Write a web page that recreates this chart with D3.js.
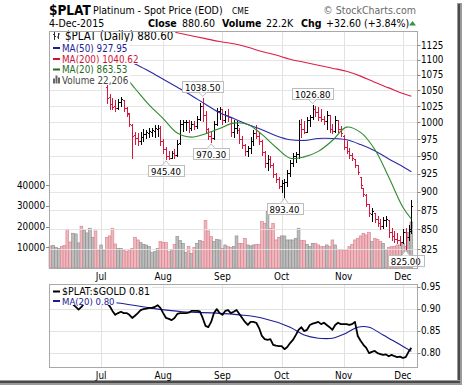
<!DOCTYPE html>
<html>
<head>
<meta charset="utf-8">
<script src="https://cdn.jsdelivr.net/npm/d3@7"></script>
<style>
  body { margin: 0; background: #fff; }
  svg { display: block; }
  text { font-family: "DejaVu Sans Condensed", "DejaVu Sans", sans-serif; }
</style>
</head>
<body>
<svg id="chart" width="464" height="387"></svg>
<script>
// meses del eje x (indice de la primera barra de cada mes)
const months = ['Jul', 'Aug', 'Sep', 'Oct', 'Nov', 'Dec'];
const monthIndex = [18, 40, 61, 82, 104, 125];

// barras diarias $PLAT (jun 2015 - 4 dic 2015)
const opens = [
  1120,1114,1118,1121,1123,1118,1110,1104,1098,1102,
  1106,1108,1097,1100,1103,1105,1107,1095,1085,1088,
  1056,1040,1028,1025,1022,1032,1034,1022,1013,996,
  981,977,972,978,982,984,986,987,990,992,
  972,960,950,948,955,952,970,997,1000,1001,
  992,998,995,1006,1026,1012,990,980,976,998,
  1018,1020,1004,1012,1008,985,992,989,975,966,
  958,962,972,984,980,972,956,940,946,938,
  924,917,908,912,913,926,940,950,953,998,
  990,986,1004,1008,1020,1016,1008,1006,1002,1012,
  990,987,1004,990,980,964,958,952,946,937,
  920,905,896,884,870,872,864,858,855,862,
  862,846,842,838,836,834,846,840,850];
const highs = [
  1124,1122,1125,1128,1126,1120,1112,1107,1106,1110,
  1112,1110,1104,1106,1108,1110,1108,1097,1092,1094,
  1058,1044,1038,1034,1036,1040,1035,1024,1014,997,
  986,984,985,990,988,992,991,996,996,995,
  975,963,958,958,960,973,1003,1004,1003,1004,
  1002,1002,1010,1030,1038.5,1018,992,985,1002,1022,
  1024,1020,1018,1020,1008,1003,1002,991,980,968,
  965,978,988,996,986,974,958,952,950,940,
  926,920,916,918,930,945,955,956,1004,1006,
  1002,1008,1012,1026.8,1025,1024,1020,1010,1018,1012,
  998,1010,1004,995,981,972,962,955,946,937,
  921,905,897,884,878,872,868,864,866,868,
  862,852,848,845,842,850,852,856,889];
const lows = [
  1110,1110,1114,1117,1114,1106,1100,1094,1095,1099,
  1102,1094,1093,1096,1099,1101,1092,1082,1080,1083,
  1030,1020,1020,1017,1020,1026,1018,1010,994,948,
  968,966,968,972,976,978,980,978,980,966,
  955,945.4,946,947,948,951,968,987,988,985,
  988,990,992,1004,1002,985,975,970.3,975,996,
  1005,998,1000,1002,980,978,984,970,962,952,
  951,955,966,976,968,952,934,930,935,920,
  914,905,900,893.4,908,922,936,941,948,978,
  984,986,995,1006,1010,1004,1002,998,990,986,
  984,985,985,980,960,954,948,944,934,925,
  905,894,881,868,861,860,854,850,852,855,
  840,836,834,832,830,832,825,836,845];
const closes = [
  1115,1118,1121,1124,1118,1110,1104,1098,1102,1106,
  1108,1097,1100,1103,1105,1107,1095,1085,1088,1090,
  1038,1028,1024,1022,1032,1036,1022,1014,998,980,
  976,972,978,983,985,987,988,991,992,972,
  960,950,948,955,952,968,998,1000,1001,992,
  998,995,1006,1026,1012,990,980,976,998,1018,
  1020,1004,1012,1008,985,992,996,975,966,958,
  962,972,984,980,972,956,940,946,938,924,
  917,908,912,913,926,940,950,953,998,990,
  986,1004,1008,1020,1016,1008,1006,1002,1012,990,
  987,1004,990,984,964,958,952,947,938,928,
  910,897,884,872,874,864,858,855,862,864,
  846,842,838,836,834,846,840,848,880.6];
const volumes = [
  10600,10950,10000,9500,10470,10950,18680,12560,16740,16420,
  12080,20130,18350,16900,19160,14810,17870,8690,11110,8690,
  14810,15460,19160,11590,9500,9500,8690,7890,9020,9500,
  14810,13520,12240,11430,11110,10300,7400,7890,9340,12720,
  12240,12240,7890,9020,11430,15140,13200,11910,7400,10300,
  7080,9980,11910,13200,12720,22860,17870,15140,12720,13850,
  13520,9500,11110,10300,9980,10300,15460,11910,11910,14330,
  11110,10630,11110,11430,11430,22380,21570,27200,19160,21570,
  13520,14810,15460,15460,13520,13520,13520,14330,19160,13200,
  13200,11430,10300,11910,11910,11110,10300,10300,11110,10300,
  13520,11110,9020,9020,8690,8690,10300,11430,13520,14330,
  15460,16740,15940,17070,12720,14330,13850,12720,11910,9020,
  9980,10300,10300,11110,11110,11910,10300,17070,22206];

// medias moviles
const maIndex = [20,25,30,35,40,45,50,55,60,65,70,75,80,85,90,95,100,105,110,115,120,125,128];
const ma20 = [1095,1080,1053,1027,1006,984,978,983,991,999,997,982,963,947,949,957,973,993,985,960,920,879,863.53];
const ma50 = [1112,1102,1093,1081,1068,1055,1042,1028,1015,1006,997,989,980,974,973,976,976,974,967,958,946,935,927.95];
const ma200 = [1172,1166,1160,1155,1151,1146,1141,1136,1131,1127,1121,1114,1108,1101,1096,1091,1086,1081,1073,1063,1054,1045,1040.62];

// $PLAT:$GOLD
const ratios = [
  0.915,0.918,0.920,0.916,0.912,0.915,0.918,0.914,0.910,0.904,
  0.898,0.904,0.912,0.915,0.918,0.916,0.920,0.918,0.915,0.918,
  0.913,0.906,0.895,0.886,0.890,0.893,0.890,0.890,0.886,0.879,
  0.884,0.890,0.897,0.899,0.900,0.902,0.902,0.904,0.908,0.902,
  0.890,0.879,0.877,0.874,0.879,0.888,0.890,0.890,0.890,0.891,
  0.895,0.895,0.895,0.894,0.879,0.861,0.858,0.870,0.890,0.899,
  0.890,0.886,0.895,0.897,0.890,0.893,0.897,0.888,0.879,0.870,
  0.863,0.870,0.870,0.868,0.856,0.838,0.831,0.829,0.831,0.818,
  0.816,0.815,0.815,0.808,0.813,0.822,0.829,0.840,0.852,0.858,
  0.849,0.852,0.863,0.866,0.868,0.870,0.865,0.868,0.863,0.858,
  0.852,0.863,0.868,0.865,0.865,0.865,0.863,0.865,0.870,0.838,
  0.827,0.818,0.811,0.799,0.802,0.804,0.799,0.797,0.795,0.796,
  0.792,0.795,0.792,0.790,0.791,0.788,0.790,0.802,0.811];
const ratioMaIndex = [20,24,35,47,59,67,75,85,90,95,100,105,109,113,118,123,128];
const ratioMa = [0.915,0.913,0.902,0.893,0.890,0.886,0.879,0.858,0.840,0.833,0.833,0.845,0.858,0.858,0.840,0.822,0.803];

// ejes y etiquetas
const priceTicks = [825,850,875,900,925,950,975,1000,1025,1050,1075,1100,1125];
const volumeTicks = [10000,20000,30000,40000];
const ratioTicks = [0.80,0.85,0.90,0.95];
const labelIndex = [41,54,57,83,93,126];
const labelKind = ['low','high','low','low','high','low'];

const RED = '#d8173f', GRID = '#e2e2e2', BORDER = '#a9a9a9';

const svg = d3.select('#chart');

// sombra y fondo
svg.append('rect').attr('x', 457).attr('y', 3).attr('width', 5).attr('height', 381).attr('fill', '#9a9a9a');
svg.append('rect').attr('x', 458).attr('y', 4).attr('width', 2).attr('height', 379).attr('fill', '#4a4a4a');
svg.append('rect').attr('x', 0).attr('y', 380).attr('width', 462).attr('height', 5).attr('fill', '#9a9a9a');
svg.append('rect').attr('x', 0).attr('y', 381).attr('width', 460).attr('height', 2).attr('fill', '#4a4a4a');
svg.append('rect').attr('x', 0).attr('y', 0).attr('width', 457).attr('height', 380).attr('fill', '#fff');

// escalas
const x = d3.scaleLinear().domain([-0.5, 130]).range([49, 417]);
const step = x(1) - x(0);
const y = d3.scaleLog().domain([825, 1125]).range([249, 45]);
const yVol = d3.scaleLinear().domain([0, 40000]).range([268, 185]);
const yRatio = d3.scaleLinear().domain([0.80, 0.95]).range([352.7, 286.7]);

const P = { left: 49, right: 417, top: 31, bottom: 268 };
const L = { top: 284, bottom: 367 };

const defs = svg.append('defs');
defs.append('clipPath').attr('id', 'clipPrice').append('rect')
  .attr('x', P.left).attr('y', P.top).attr('width', P.right - P.left).attr('height', P.bottom - P.top);
defs.append('clipPath').attr('id', 'clipLower').append('rect')
  .attr('x', P.left).attr('y', L.top).attr('width', P.right - P.left).attr('height', L.bottom - L.top);

// cabecera
const head = svg.append('g').style('font-family', '"Liberation Sans", Arial, sans-serif');
head.append('text').attr('x', 49).attr('y', 15).attr('font-size', 13.5).attr('font-weight', 'bold').text('$PLAT');
head.append('text').attr('x', 93).attr('y', 14).attr('font-size', 10.5).text('Platinum  - Spot Price (EOD)');
head.append('text').attr('x', 232).attr('y', 14).attr('font-size', 8.5).text('CME');
head.append('text').attr('x', 416).attr('y', 14).attr('font-size', 10.5).attr('fill', '#6a6a6a')
  .attr('text-anchor', 'end').text('© StockCharts.com');

const row = svg.append('g').attr('font-size', 10.5);
const rowText = [['4-Dec-2015', 49, false], ['Close', 148, true], ['880.60', 182, false],
  ['Volume', 222, true], ['22.2K', 266, false], ['Chg', 301, true], ['+32.60 (+3.84%)', 326, false]];
rowText.forEach(([t, px, b]) => {
  row.append('text').attr('x', px).attr('y', 27).attr('font-weight', b ? 'bold' : 'normal').text(t);
});
svg.append('path').attr('d', 'M409,25.5L412.5,21L416,25.5Z').attr('fill', '#2e9a36');

// panel de precio: rejilla
const price = svg.append('g');
price.selectAll('line.vgrid').data(monthIndex).enter().append('line')
  .attr('x1', d => Math.round(x(d)) + 0.5).attr('x2', d => Math.round(x(d)) + 0.5)
  .attr('y1', P.top).attr('y2', P.bottom).attr('stroke', GRID);

// volumen
const up = closes.map((c, i) => i === 0 ? c >= opens[0] : c >= closes[i - 1]);
price.selectAll('rect.vol').data(volumes).enter().append('rect')
  .attr('x', (d, i) => x(i - 0.5))
  .attr('width', step)
  .attr('y', d => yVol(d))
  .attr('height', d => yVol(0) - yVol(d))
  .attr('fill', (d, i) => up[i] ? '#bdbdbd' : '#efb7be')
  .attr('stroke', (d, i) => up[i] ? '#8c8c8c' : '#d97f8c')
  .attr('stroke-width', 0.6);

price.selectAll('line.hgrid').data(priceTicks).enter().append('line')
  .attr('x1', P.left).attr('x2', P.right)
  .attr('y1', d => Math.round(y(d)) + 0.5).attr('y2', d => Math.round(y(d)) + 0.5)
  .attr('stroke', GRID).attr('stroke-opacity', 0.9);

// barras OHLC
const bars = price.append('g').attr('clip-path', 'url(#clipPrice)').attr('shape-rendering', 'crispEdges');
bars.selectAll('path').data(closes).enter().append('path')
  .attr('d', (c, i) => {
    const cx = Math.round(x(i)) + 0.5;
    return `M${cx},${Math.round(y(highs[i]))}V${Math.round(y(lows[i])) + 1}` +
      `M${cx - 1.5},${Math.round(y(opens[i])) + 0.5}H${cx}` +
      `M${cx},${Math.round(y(c)) + 0.5}H${cx + 1.5}`;
  })
  .attr('stroke', (c, i) => up[i] ? '#000' : RED)
  .attr('fill', 'none');

// medias moviles
const maLine = d3.line().x(d => x(d[0])).y(d => y(d[1])).curve(d3.curveCatmullRom);
const maGroup = price.append('g').attr('clip-path', 'url(#clipPrice)');
[[ma200, '#dc1f45'], [ma50, '#2a2aa6'], [ma20, '#2d8a2d']].forEach(([vals, col]) => {
  maGroup.append('path')
    .attr('d', maLine(maIndex.map((d, k) => [d, vals[k]])))
    .attr('fill', 'none').attr('stroke', col).attr('stroke-width', 1.1);
});

// etiquetas de maximos y minimos
labelIndex.forEach((i, k) => {
  const isHigh = labelKind[k] === 'high';
  const v = isHigh ? highs[i] : lows[i];
  const cx = x(i), py = y(v);
  const label = v.toFixed(2);
  const g = price.append('g');
  const t = g.append('text').attr('font-size', 9.5).attr('text-anchor', 'middle').text(label);
  const w = t.node().getComputedTextLength() + 6;
  const boxTop = isHigh ? py - 17 : py + 6;
  g.insert('rect', 'text')
    .attr('x', Math.round(cx - w / 2) + 0.5).attr('y', Math.round(boxTop) + 0.5)
    .attr('width', Math.round(w)).attr('height', 11)
    .attr('fill', '#fff').attr('stroke', '#bdbdbd');
  const edge = isHigh ? Math.round(boxTop) + 11.5 : Math.round(boxTop) + 0.5;
  const tip = isHigh ? py - 1.5 : py + 1.5;
  g.append('path')
    .attr('d', `M${cx - 4},${edge}L${cx},${tip}L${cx + 4},${edge}`)
    .attr('fill', '#fff').attr('stroke', '#bdbdbd');
  t.attr('x', cx).attr('y', Math.round(boxTop) + 9.5);
});

// leyenda del panel de precio
const legend = [
  { text: '$PLAT (Daily) 880.60', color: '#000', size: 11.5, y: 40, icon: 'ohlc' },
  { text: 'MA(50) 927.95', color: '#1c1c96', size: 9.8, y: 51.5, icon: 'dash' },
  { text: 'MA(200) 1040.62', color: '#d0103a', size: 9.8, y: 62.5, icon: 'dash' },
  { text: 'MA(20) 863.53', color: '#1e6e1e', size: 9.8, y: 73, icon: 'dash' },
  { text: 'Volume 22,206', color: '#444', size: 9.8, y: 83.5, icon: 'vol' }
];
const leg = svg.append('g');
legend.forEach(d => {
  const g = leg.append('g');
  const tx = d.icon === 'ohlc' ? 65 : 62;
  const t = g.append('text').attr('x', tx).attr('y', d.y).attr('font-size', d.size)
    .attr('fill', d.color).text(d.text);
  const w = t.node().getComputedTextLength();
  g.insert('rect', 'text').attr('x', P.left + 1).attr('y', d.y - 9.5)
    .attr('width', tx + w + 2 - P.left - 1).attr('height', 11).attr('fill', '#fff');
  if (d.icon === 'dash') {
    g.append('rect').attr('x', 53).attr('y', d.y - 4.5).attr('width', 7).attr('height', 2).attr('fill', d.color);
  } else if (d.icon === 'ohlc') {
    g.append('path').attr('d', `M54.5,${d.y - 8}V${d.y}M53,${d.y - 5.5}H54.5M54.5,${d.y - 3.5}H56` +
      `M58.5,${d.y - 7}V${d.y - 1}M57,${d.y - 3}H58.5M58.5,${d.y - 6}H60`)
      .attr('stroke', '#333').attr('fill', 'none');
  } else {
    g.append('path').attr('d', `M53,${d.y}V${d.y - 5}H55V${d.y}M55.5,${d.y}V${d.y - 8}H57.5V${d.y}M58,${d.y}V${d.y - 6}H60V${d.y}`)
      .attr('fill', '#666');
  }
});

// borde y ejes del panel de precio
svg.append('rect').attr('x', P.left + 0.5).attr('y', P.top + 0.5)
  .attr('width', P.right - P.left).attr('height', P.bottom - P.top)
  .attr('fill', 'none').attr('stroke', BORDER);

const axisFont = 9.8;
svg.selectAll('text.ptick').data(priceTicks).enter().append('text')
  .attr('x', 421).attr('y', d => y(d) + 3.5).attr('font-size', axisFont).text(d => d);
svg.selectAll('line.ptick').data(priceTicks).enter().append('line')
  .attr('x1', P.right + 0.5).attr('x2', P.right + 3.5)
  .attr('y1', d => Math.round(y(d)) + 0.5).attr('y2', d => Math.round(y(d)) + 0.5).attr('stroke', '#888');
svg.selectAll('text.vtick').data(volumeTicks).enter().append('text')
  .attr('x', 45).attr('y', d => yVol(d) + 3.5).attr('font-size', axisFont)
  .attr('text-anchor', 'end').text(d => d);
svg.selectAll('line.vtick').data(volumeTicks).enter().append('line')
  .attr('x1', 46).attr('x2', P.left + 0.5)
  .attr('y1', d => Math.round(yVol(d)) + 0.5).attr('y2', d => Math.round(yVol(d)) + 0.5).attr('stroke', '#888');

// etiquetas de meses (entre paneles y abajo)
[279.5, 378.5].forEach(py => {
  svg.selectAll(null).data(monthIndex).enter().append('text')
    .attr('x', d => x(d)).attr('y', py).attr('font-size', axisFont)
    .attr('text-anchor', 'middle').text((d, k) => months[k]);
});

// panel inferior: $PLAT:$GOLD
const lower = svg.append('g');
lower.selectAll('line.vgrid').data(monthIndex).enter().append('line')
  .attr('x1', d => Math.round(x(d)) + 0.5).attr('x2', d => Math.round(x(d)) + 0.5)
  .attr('y1', L.top).attr('y2', L.bottom).attr('stroke', GRID);
lower.selectAll('line.hgrid').data(ratioTicks).enter().append('line')
  .attr('x1', P.left).attr('x2', P.right)
  .attr('y1', d => Math.round(yRatio(d)) + 0.5).attr('y2', d => Math.round(yRatio(d)) + 0.5)
  .attr('stroke', GRID);

const lowerPlot = lower.append('g').attr('clip-path', 'url(#clipLower)');
lowerPlot.append('path')
  .attr('d', d3.line().x(d => x(d[0])).y(d => yRatio(d[1])).curve(d3.curveCatmullRom)(ratioMaIndex.map((d, k) => [d, ratioMa[k]])))
  .attr('fill', 'none').attr('stroke', '#1c1c96').attr('stroke-width', 1.1);
lowerPlot.append('path')
  .attr('d', d3.line().x((d, i) => x(i)).y(d => yRatio(d))(ratios))
  .attr('fill', 'none').attr('stroke', '#000').attr('stroke-width', 1.8).attr('stroke-linejoin', 'round');

const lowerLegend = [
  { text: '$PLAT:$GOLD 0.81', color: '#000', size: 10.5, y: 295 },
  { text: 'MA(20) 0.80', color: '#1c1c96', size: 9.5, y: 304.5 }
];
lowerLegend.forEach(d => {
  const g = lower.append('g');
  const t = g.append('text').attr('x', 62).attr('y', d.y).attr('font-size', d.size).attr('fill', d.color).text(d.text);
  const w = t.node().getComputedTextLength();
  g.insert('rect', 'text').attr('x', P.left + 1).attr('y', d.y - 9.5)
    .attr('width', 62 + w + 2 - P.left - 1).attr('height', 10).attr('fill', '#fff');
  g.append('rect').attr('x', 53).attr('y', d.y - 4.5).attr('width', 7).attr('height', 2).attr('fill', d.color);
});

svg.append('rect').attr('x', P.left + 0.5).attr('y', L.top + 0.5)
  .attr('width', P.right - P.left).attr('height', L.bottom - L.top)
  .attr('fill', 'none').attr('stroke', BORDER);
svg.selectAll('text.rtick').data(ratioTicks).enter().append('text')
  .attr('x', 421).attr('y', d => yRatio(d) + 3.5).attr('font-size', axisFont).text(d => d.toFixed(2));
svg.selectAll('line.rtick').data(ratioTicks).enter().append('line')
  .attr('x1', P.right + 0.5).attr('x2', P.right + 3.5)
  .attr('y1', d => Math.round(yRatio(d)) + 0.5).attr('y2', d => Math.round(yRatio(d)) + 0.5).attr('stroke', '#888');
</script>
</body>
</html>
